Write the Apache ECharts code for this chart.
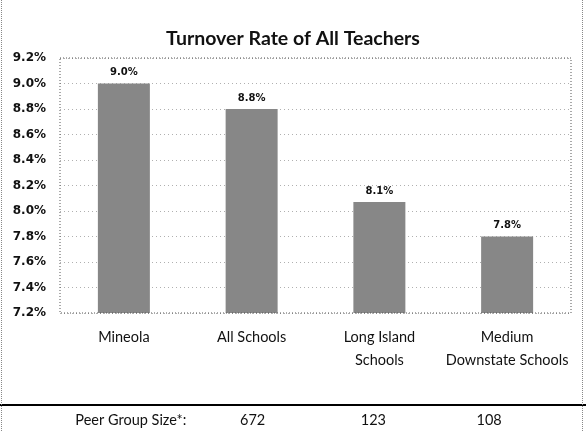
<!DOCTYPE html>
<html><head><meta charset="utf-8">
<script src="https://cdn.jsdelivr.net/npm/echarts@6/dist/echarts.min.js"></script>
<style>html,body{margin:0;padding:0;background:#fff}#c{width:586px;height:431px}</style>
</head><body><div id="c"></div>
<script>
var categories = ['Mineola', 'All Schools', 'Long Island\nSchools', 'Medium\nDownstate Schools'];
var turnoverRates = [9.0, 8.8, 8.07, 7.8];
var peerLabel = 'Peer Group Size*:';
var peerSizes = ['', '672', '123', '108'];
var yMin = 7.2, yMax = 9.2, yStep = 0.2;

// layout only: horizontal shift of the peer-row texts relative to each category centre
var peerShift = [7, 1, -6, -18];

var chart = echarts.init(document.getElementById('c'), null, {renderer: 'canvas'});
var option = {
  backgroundColor: '#fff',
  animation: false,
  title: {
    text: 'Turnover Rate of All Teachers',
    left: 'center', top: 24,
    textStyle: {fontFamily: 'Lato', fontWeight: 'bold', fontSize: 19.5, color: '#111'}
  },
  grid: {left: 60, right: 15, top: 58, bottom: 118, containLabel: false},
  xAxis: {
    type: 'category', data: categories,
    axisLine: {show: false},
    axisTick: {show: false},
    axisLabel: {fontFamily: 'Lato', fontSize: 14.5, color: '#111', margin: 13, lineHeight: 23, interval: 0}
  },
  yAxis: {
    type: 'value', min: yMin, max: yMax, interval: yStep,
    axisLine: {show: false}, axisTick: {show: false},
    axisLabel: {fontFamily: 'DejaVu Sans', fontWeight: 'bold', fontSize: 12, color: '#111', margin: 14,
      formatter: function (v) { return v.toFixed(1) + '%'; }},
    splitLine: {show: true, lineStyle: {color: '#b0b0b0', type: [1, 3], width: 1}}
  },
  series: [{
    type: 'bar', data: turnoverRates, barWidth: 52,
    itemStyle: {color: '#878787'},
    label: {show: true, position: 'top', distance: 6, fontFamily: 'DejaVu Sans', fontWeight: 'bold', fontSize: 10, color: '#111',
      formatter: function (p) { return p.value.toFixed(1) + '%'; }}
  }]
};
chart.setOption(option);

var g = chart.getModel().getComponent('grid').coordinateSystem.getRect();
var els = [
  {type: 'rect', shape: {x: g.x, y: g.y, width: g.width, height: g.height}, silent: true,
   style: {fill: 'none', stroke: '#555', lineWidth: 1, lineDash: [1, 2]}, z: 5},
  {type: 'line', shape: {x1: 0, y1: 405, x2: 586, y2: 405}, style: {stroke: '#000', lineWidth: 2}},
  {type: 'line', shape: {x1: 1.5, y1: 0, x2: 1.5, y2: 431}, style: {stroke: '#888', lineWidth: 1, lineDash: [1, 1]}},
  {type: 'line', shape: {x1: 582.5, y1: 0, x2: 582.5, y2: 431}, style: {stroke: '#888', lineWidth: 1, lineDash: [1, 1]}}
];
for (var i = 0; i < categories.length; i++) {
  var p = chart.convertToPixel({gridIndex: 0}, [i, yMin]);
  var txt = i === 0 ? peerLabel : peerSizes[i];
  els.push({type: 'text', x: p[0] + peerShift[i], y: 420,
    style: {text: txt, fontFamily: 'Lato', fontSize: 14.5, fill: '#111', align: 'center', verticalAlign: 'middle'}});
}
chart.setOption({graphic: {elements: els}});
</script></body></html>
